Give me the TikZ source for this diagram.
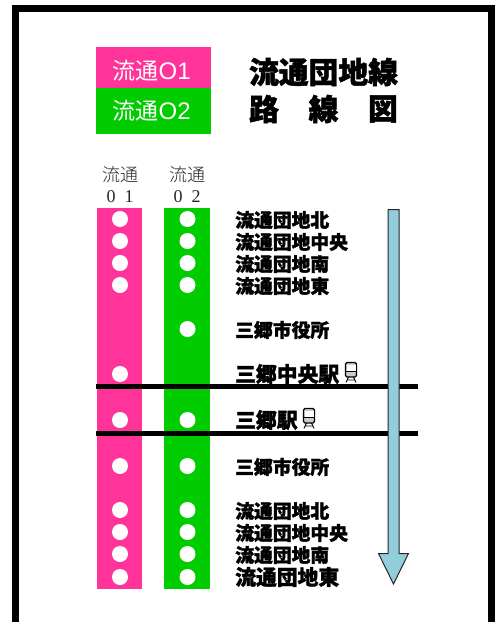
\documentclass[tikz,border=0pt]{standalone}
\usepackage{fontspec}
\newfontfamily\heavyjp[FakeBold=1.6]{Noto Sans CJK JP Black}
\newfontfamily\plainjp{Noto Sans CJK JP}
\newfontfamily\lightjp{Noto Sans CJK JP Light}
\newfontfamily\latinsans{Liberation Sans}
\newfontfamily\latinserif{Liberation Serif}
\definecolor{pinkline}{HTML}{FF3399}
\definecolor{greenline}{HTML}{00CC00}
\definecolor{arrowblue}{HTML}{92CDDC}
\newcommand{\keyfont}{\plainjp\fontsize{23}{23}\selectfont}
\newcommand{\keylatin}{\latinsans\fontsize{24}{24}\selectfont}
\newcommand{\headdigits}[2]{{\latinserif\makebox[18pt]{#1}\makebox[18pt]{#2}}}
\tikzset{
  x=1pt,y=-1pt,
  stoplabel/.style={anchor=west,inner sep=0pt,font=\heavyjp\fontsize{18.8}{18.8}\selectfont},
  bigstop/.style={stoplabel,font=\heavyjp\fontsize{20.8}{20.8}\selectfont},
  titletext/.style={inner sep=0pt,font=\heavyjp\fontsize{29.8}{29.8}\selectfont},
  keylabel/.style={text=white,inner sep=0pt,anchor=west},
  headlabel/.style={inner sep=0pt,font=\lightjp\fontsize{18}{18}\selectfont,text=black!85},
  dot/.style={circle,fill=white,minimum size=16pt,inner sep=0pt},
  band/.style={fill=black},
}
\newcommand{\trainicon}[2]{%
  \begin{scope}[shift={(#1,#2)}]
    \draw[black,line width=1.1pt,rounded corners=1.5pt,fill=black!20] (-5.5,-10.5) rectangle (5.5,4);
    \fill[white] (-4.5,-8.5) rectangle (4.5,-2);
    \draw[black,line width=1pt] (-5.5,-2) -- (5.5,-2);
    \draw[black,line width=.9pt] (-2.5,4) -- (-5,9.5) (2.5,4) -- (5,9.5) (-3.5,7) -- (3.5,7);
  \end{scope}}
\begin{document}
\begin{tikzpicture}
\useasboundingbox (0,0) rectangle (502,622);
\fill[white] (0,0) rectangle (502,622);
% frame
\fill[band] (12,5) rectangle (495,12);
\fill[band] (12,5) rectangle (19,622);
\fill[band] (488,5) rectangle (495,622);
% key
\fill[pinkline] (96,47) rectangle (211,88);
\fill[greenline] (96,88) rectangle (211,134);
\node[keylabel] (k1) at (112.5,71) {\keyfont 流通\keylatin O1};
\node[keylabel] (k2) at (112.5,111) {\keyfont 流通\keylatin O2};
% title
\node[titletext] (t1) at (323.5,72) {流通団地線};
\node[titletext] (t2a) at (264,109) {路};
\node[titletext] (t2b) at (323.5,109) {線};
\node[titletext] (t2c) at (383,109) {図};
% heads
\node[headlabel] (h1) at (120,175) {流通};
\node[headlabel] (h2) at (120,197) {\headdigits{0}{1}};
\node[headlabel] (h3) at (187,175) {流通};
\node[headlabel] (h4) at (187,197) {\headdigits{0}{2}};
% lines
\fill[pinkline] (97,208) rectangle (142,589);
\fill[greenline] (164,208) rectangle (210,589);
\foreach \yy in {219,241,263,285,374,420,466,510,532,554,577}
  \node[dot] at (120,\yy) {};
\foreach \yy in {219,241,263,285,329,420,466,510,532,554,577}
  \node[dot] at (187.5,\yy) {};
% stops
\node[stoplabel] (s1) at (235,220) {流通団地北};
\node[stoplabel] (s2) at (235,242) {流通団地中央};
\node[stoplabel] (s3) at (235,264) {流通団地南};
\node[stoplabel] (s4) at (235,286) {流通団地東};
\node[stoplabel] (s5) at (235,330) {三郷市役所};
\node[bigstop] (s6) at (235,374) {三郷中央駅};
\node[bigstop] (s7) at (235,420) {三郷駅};
\node[stoplabel] (s8) at (235,467) {三郷市役所};
\node[stoplabel] (s9) at (235,511) {流通団地北};
\node[stoplabel] (s10) at (235,533) {流通団地中央};
\node[stoplabel] (s11) at (235,555) {流通団地南};
\node[bigstop] (s12) at (235,577) {流通団地東};
\trainicon{351}{373}
\trainicon{309}{419}
% rules
\draw[black,line width=5pt] (96,386.5) -- (418,386.5);
\draw[black,line width=5pt] (96,433.5) -- (418,433.5);
% arrow
\draw[fill=arrowblue,draw=black!85,line width=1pt] (388,209.5) -- (399,209.5) -- (399,553.5) -- (408.5,553.5) -- (393.5,584) -- (378.5,553.5) -- (388,553.5) -- cycle;
\end{tikzpicture}
\end{document}
